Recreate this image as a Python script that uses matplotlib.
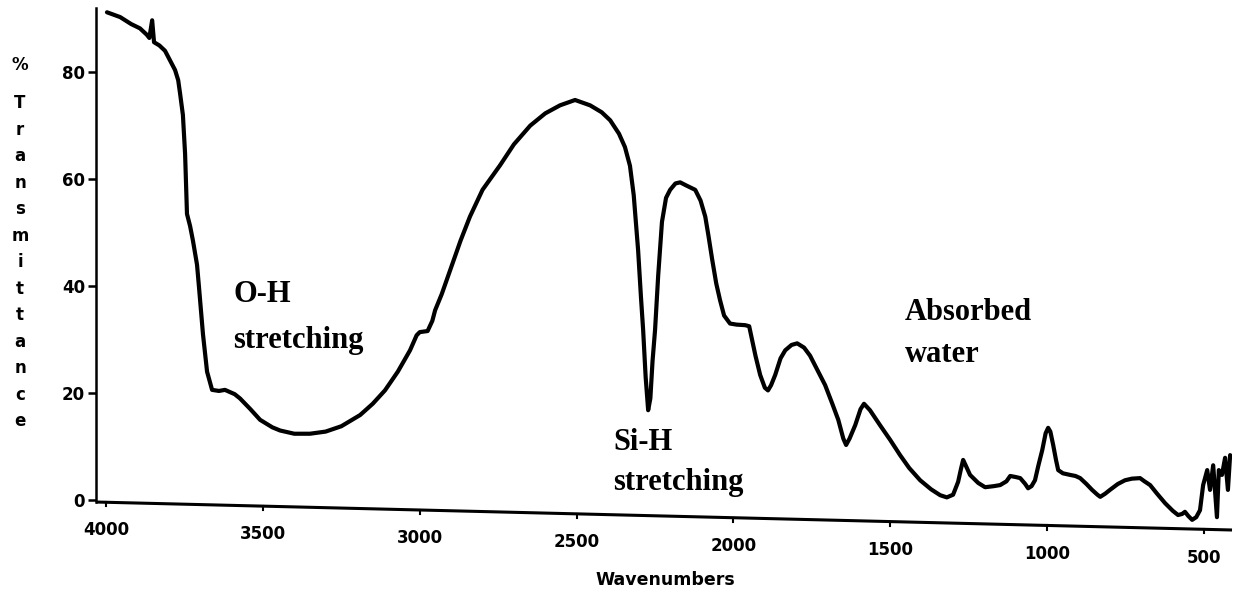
import matplotlib
matplotlib.use("Agg")
import matplotlib.pyplot as plt

# IR spectrum (wavenumber in cm-1, % transmittance)
wavenumber = [3997, 3955, 3920, 3892, 3870, 3862, 3853, 3847, 3830, 3812, 3796,
              3780, 3770, 3764, 3755, 3748, 3742, 3732, 3723, 3710, 3704, 3691,
              3678, 3662, 3640, 3621, 3590, 3573, 3540, 3509, 3470, 3445, 3400,
              3350, 3300, 3250, 3190, 3150, 3111, 3070, 3031, 3010, 3000, 2975,
              2960, 2951, 2930, 2903, 2870, 2840, 2800, 2744, 2700, 2648, 2600,
              2553, 2505, 2457, 2420, 2393, 2365, 2346, 2330, 2318, 2304, 2295,
              2288, 2280, 2272, 2265, 2258, 2250, 2240, 2228, 2215, 2202, 2185,
              2170, 2150, 2122, 2105, 2090, 2080, 2068, 2055, 2043, 2030, 2011,
              1990, 1963, 1950, 1941, 1930, 1915, 1900, 1890, 1880, 1867, 1850,
              1835, 1815, 1797, 1775, 1756, 1730, 1708, 1685, 1666, 1650, 1641,
              1630, 1612, 1595, 1584, 1565, 1533, 1500, 1469, 1440, 1405, 1370,
              1341, 1320, 1300, 1284, 1275, 1268, 1260, 1246, 1220, 1198, 1170,
              1150, 1130, 1118, 1100, 1086, 1070, 1061, 1050, 1039, 1028, 1016,
              1005, 997, 990, 981, 972, 965, 950, 927, 910, 895, 875, 857, 840,
              831, 815, 800, 775, 752, 730, 704, 690, 672, 650, 624, 600, 583,
              570, 561, 550, 538, 525, 513, 503, 490, 481, 471, 459, 453, 443,
              433, 424, 417]
transmittance = [91.2, 90.3, 89.0, 88.2, 87.0, 86.4, 89.7, 85.6, 85.0, 84.0, 82.2,
                 80.4, 78.5, 76.0, 72.0, 64.7, 53.5, 51.2, 48.5, 44.0, 40.0, 31.0,
                 24.0, 20.6, 20.4, 20.6, 19.8, 19.0, 17.0, 15.0, 13.6, 13.0, 12.4,
                 12.4, 12.8, 13.8, 15.9, 18.0, 20.5, 24.0, 28.0, 30.8, 31.4, 31.6,
                 33.5, 35.5, 38.5, 43.0, 48.5, 53.0, 58.0, 62.6, 66.5, 70.0, 72.3,
                 73.8, 74.8, 73.8, 72.5, 71.0, 68.5, 66.0, 62.5, 57.0, 46.7, 38.0,
                 31.8, 23.0, 16.8, 19.0, 26.0, 31.8, 42.0, 52.0, 56.5, 58.0, 59.2,
                 59.4, 58.8, 58.0, 56.0, 53.0, 49.5, 45.0, 40.5, 37.4, 34.5, 33.0,
                 32.8, 32.7, 32.5, 30.0, 27.0, 23.4, 21.0, 20.5, 21.5, 23.4, 26.5,
                 28.0, 29.0, 29.3, 28.5, 27.0, 24.0, 21.5, 18.0, 15.0, 11.5, 10.3,
                 11.5, 14.0, 17.0, 18.0, 16.8, 14.0, 11.2, 8.4, 6.0, 3.7, 2.0,
                 0.9, 0.5, 1.0, 3.4, 5.8, 7.5, 6.5, 4.7, 3.2, 2.4, 2.6,
                 2.8, 3.5, 4.5, 4.3, 4.1, 3.0, 2.2, 2.6, 3.7, 6.5, 9.3,
                 12.5, 13.5, 12.8, 10.3, 7.5, 5.6, 5.0, 4.7, 4.5, 4.1, 3.0, 1.9, 1.0,
                 0.6, 1.2, 1.9, 3.0, 3.7, 4.0, 4.1, 3.5, 2.8, 1.2, -0.6, -2.0, -2.8,
                 -2.6, -2.2, -3.0, -3.7, -3.2, -1.9, 2.8, 5.6, 1.9, 6.5, -3.2, 5.6, 4.7,
                 7.9, 1.9, 8.4]

xticks = [4000, 3500, 3000, 2500, 2000, 1500, 1000, 500]
yticks = [0, 20, 40, 60, 80]

XMIN, XMAX = 4032, 411

fig = plt.figure(figsize=(12.42, 5.96), dpi=100)
ax = fig.add_axes([96/1242, 1 - 530/596, (1232 - 96)/1242, (530 - 8)/596])

ax.plot(wavenumber, transmittance, color="black", lw=3,
        solid_joinstyle="round", solid_capstyle="round")

ax.set_xlim(XMIN, XMAX)
ax.set_ylim(-5.6, 92)
for s in ["top", "right", "bottom"]:
    ax.spines[s].set_visible(False)
ax.spines["left"].set_linewidth(1.8)
ax.spines["left"].set_bounds(-0.4, 92)

ax.set_yticks(yticks)
ax.tick_params(axis="y", direction="out", length=6, width=1.8, pad=2,
               labelsize=12)
for lab in ax.get_yticklabels():
    lab.set_fontweight("bold")

# the scanned x axis sags to the right: draw it that way
ax.set_xticks([])
def frac(t):
    return (XMIN - t) / (XMIN - XMAX)
spine_l, spine_r = 0.0536, 0.0
ax.plot([0, 1], [spine_l, spine_r], transform=ax.transAxes, color="black",
        lw=2.2, clip_on=False, solid_capstyle="butt")
xtr = ax.get_xaxis_transform()
for t in xticks:
    ys = spine_l + (spine_r - spine_l) * frac(t)
    ax.plot([t, t], [ys, ys - 0.008], transform=xtr, color="black", lw=1.5,
            clip_on=False)
    ax.text(t, ys - 0.054, str(t), transform=xtr, ha="center",
            va="center", fontsize=12, fontweight="bold", clip_on=False)

fig.text(665/1242, 1 - 580/596, "Wavenumbers", fontsize=12.5,
         fontweight="bold", ha="center", va="center")

# stacked y label
fig.text(20/1242, 1 - 65/596, "%", fontsize=12, fontweight="bold",
         ha="center", va="center")
fig.text(20/1242, 1 - 94/596, "\n".join("Transmittance"), fontsize=12,
         fontweight="bold", ha="center", va="top", linespacing=1.61)

serif = dict(family="Liberation Serif", fontweight="bold", fontsize=22)
ax.text(3595, 37.0, "O-H", **serif)
ax.text(3595, 28.4, "stretching", **serif)
ax.text(2384, 9.3, "Si-H", **serif)
ax.text(2384, 1.9, "stretching", **serif)
ax.text(1453, 33.6, "Absorbed", **serif)
ax.text(1453, 25.8, "water", **serif)

fig.savefig("out.png", dpi=100)
